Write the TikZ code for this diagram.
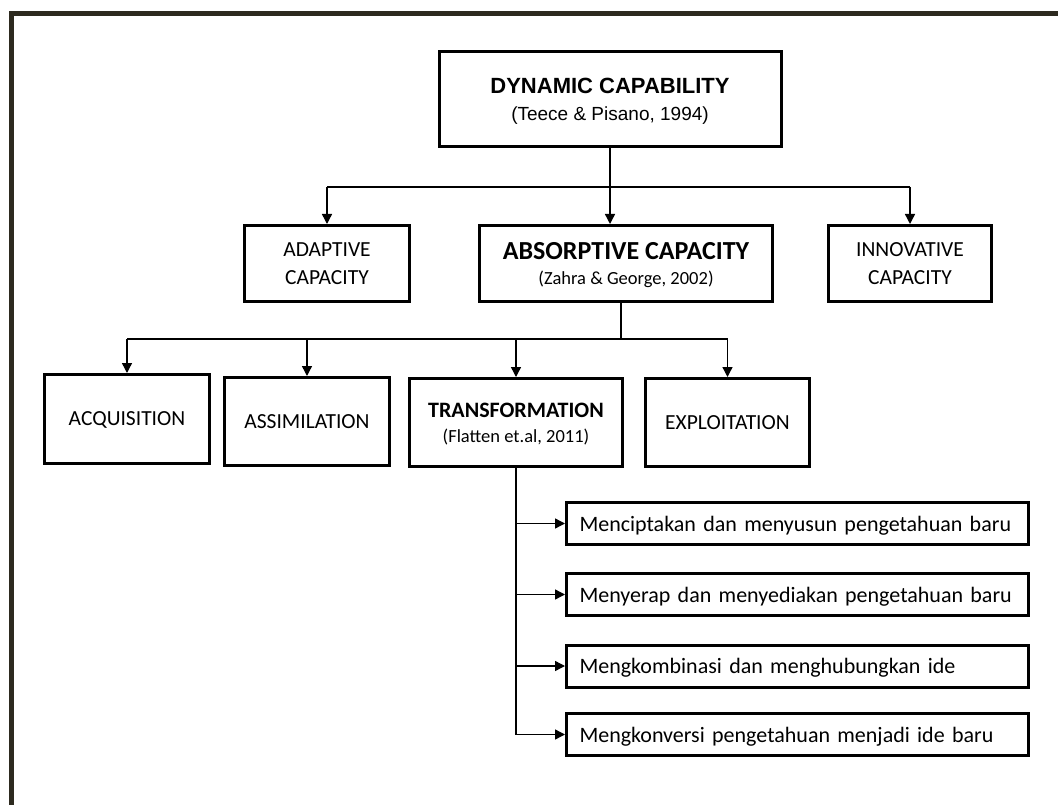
\documentclass[tikz,border=0pt]{standalone}
\usepackage{fontspec}
\setmainfont{Carlito}
\newfontfamily\arialfont{Liberation Sans}
\usetikzlibrary{arrows.meta}
\definecolor{framecol}{HTML}{2D2A1F}

\tikzset{
  box/.style={draw=black, line width=3pt, rectangle, inner sep=0pt,
    align=center, font=\fontsize{21.5}{28}\selectfont},
  subbox/.style={draw=black, line width=3pt, rectangle, anchor=west,
    minimum height=42pt, text width=436pt, inner xsep=13pt, inner ysep=0pt,
    text depth=0pt, align=left, font=\fontsize{22}{27}\selectfont},
  link/.style={line width=1.4pt},
  arr/.style={link, -{Triangle[length=10pt,width=10pt]}}
}

\begin{document}
\begin{tikzpicture}[x=1pt,y=-1pt]
\useasboundingbox (0,0) rectangle (1058,805);
\fill[white] (0,0) rectangle (1058,805);

% outer frame (top and left edges)
\draw[framecol, line width=5pt] (11.5,805) -- (11.5,13.5) -- (1058,13.5);

% top level
\node[box, minimum width=342pt, minimum height=95pt, text depth=-4pt,
      font=\arialfont\fontsize{19}{27}\selectfont] (dyn) at (610,99)
  {{\fontsize{22}{27}\selectfont\bfseries DYNAMIC CAPABILITY}\\(Teece \& Pisano, 1994)};

% second level
\node[box, minimum width=165pt, minimum height=76pt, text depth=-3pt] (adapt) at (327,263.5)
  {ADAPTIVE\\CAPACITY};
\node[box, minimum width=293pt, minimum height=76pt, text depth=-4pt,
      font=\fontsize{18.5}{25}\selectfont] (absorb) at (626,263.5)
  {{\fontsize{26}{25}\selectfont\bfseries ABSORPTIVE CAPACITY}\\(Zahra \& George, 2002)};
\node[box, minimum width=163pt, minimum height=76pt, text depth=-3pt] (innov) at (910,263.5)
  {INNOVATIVE\\CAPACITY};

% third level
\node[box, minimum width=165pt, minimum height=89pt, text depth=0pt] (acq) at (127,419)
  {ACQUISITION};
\node[box, minimum width=165pt, minimum height=88pt] (assim) at (307,421.5)
  {ASSIMILATION};
\node[box, minimum width=213pt, minimum height=88pt, text depth=-1.5pt,
      font=\fontsize{18.5}{25}\selectfont] (trans) at (516,422.5)
  {{\fontsize{22}{25}\selectfont\bfseries TRANSFORMATION}\\(Flatten et.al, 2011)};
\node[box, minimum width=164pt, minimum height=88pt] (expl) at (727.5,422.5)
  {EXPLOITATION};

% transformation activities
\node[subbox] (s1) at (565,523.5) {\mbox{Menciptakan dan menyusun pengetahuan baru}};
\node[subbox] (s2) at (565,594.5) {\mbox{Menyerap dan menyediakan pengetahuan baru}};
\node[subbox] (s3) at (565,666) {\mbox{Mengkombinasi dan menghubungkan ide}};
\node[subbox] (s4) at (565,734.5) {\mbox{Mengkonversi pengetahuan menjadi ide baru}};

% connectors: dynamic capability
\coordinate (b1) at (0,187);
\draw[link] (adapt.north |- b1) -- (innov.north |- b1);
\draw[arr] (adapt.north |- b1) -- (adapt.north);
\draw[arr] (innov.north |- b1) -- (innov.north);
\draw[arr] (dyn.south) -- (dyn.south |- absorb.north);

% connectors: absorptive capacity
\coordinate (b2) at (0,339);
\coordinate (a0) at ([xshift=-5pt]absorb.south);
\draw[link] (a0) -- (a0 |- b2);
\draw[link] (acq.north |- b2) -- (expl.north |- b2);
\draw[arr] (acq.north |- b2) -- (acq.north);
\draw[arr] (assim.north |- b2) -- (assim.north);
\draw[arr] (trans.north |- b2) -- (trans.north);
\draw[arr] (expl.north |- b2) -- (expl.north);

% connectors: transformation
\draw[link] (trans.south) -- (trans.south |- s4.west);
\foreach \s in {s1,s2,s3,s4}
  \draw[arr] (trans.south |- \s.west) -- (\s.west);
\end{tikzpicture}
\end{document}
